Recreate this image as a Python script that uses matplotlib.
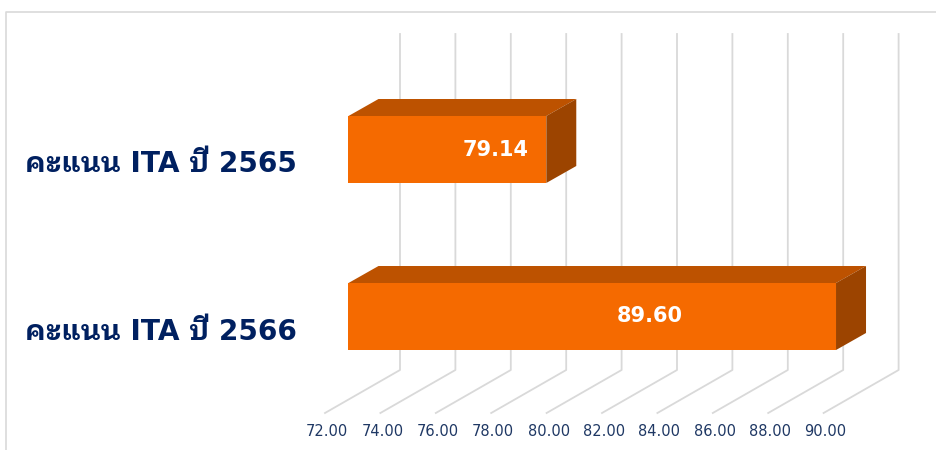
import matplotlib
matplotlib.use('Agg')
import matplotlib.pyplot as plt
from matplotlib.patches import Polygon

# labels and values
labels = ['คะแนน ITA ปี 2565', 'คะแนน ITA ปี 2566']
scores = [79.14, 89.60]
ticks = [72, 74, 76, 78, 80, 82, 84, 86, 88, 90]

thai_font = ['DejaVu Sans', 'IBM Plex Sans Thai Looped', 'Sarabun']

fig = plt.figure(figsize=(9.37, 4.5), dpi=100)
ax = fig.add_axes([0, 0, 1, 1])
ax.set_xlim(0, 937)
ax.set_ylim(450, 0)
ax.axis('off')


def xpos(v):
    return 325 + (v - 72) * 27.7


# outer frame
ax.plot([6.5, 6.5, 937], [450, 12, 12], color='#d9d9d9', lw=1.2)

for t in ticks:
    x = xpos(t)
    ax.plot([x, x + 75, x + 75], [413, 370, 34], color='#d9d9d9', lw=1.3, zorder=1)
    ax.text(x + 2, 431, '%.2f' % t, color='#1f3864', fontsize=10.5, ha='center', va='center')

tops = [116, 283]
text_x = [496, 650]
height = 67
dx, dy = 30, -17
for lab, val, top, tx in zip(labels, scores, tops, text_x):
    x0 = xpos(72) + 23.5
    x1 = xpos(val) + 23.5
    ax.add_patch(Polygon([(x0, top), (x0 + dx, top + dy), (x1 + dx, top + dy), (x1, top)],
                         color='#bd5200', lw=0, zorder=2))
    ax.add_patch(Polygon([(x1, top), (x1 + dx, top + dy), (x1 + dx, top + dy + height), (x1, top + height)],
                         color='#9c4400', lw=0, zorder=2))
    ax.add_patch(Polygon([(x0, top), (x1, top), (x1, top + height), (x0, top + height)],
                         color='#f56a00', lw=0, zorder=3))
    ax.text(tx, top + height / 2, '%.2f' % val, color='white', fontsize=15, fontweight='bold',
            ha='center', va='center', zorder=4)
    ax.text(25, top + height / 2 + 15, lab, color='#002060', fontsize=20.2, fontweight='bold', ha='left',
            va='center', family=thai_font)

fig.savefig('out.png', dpi=100)
